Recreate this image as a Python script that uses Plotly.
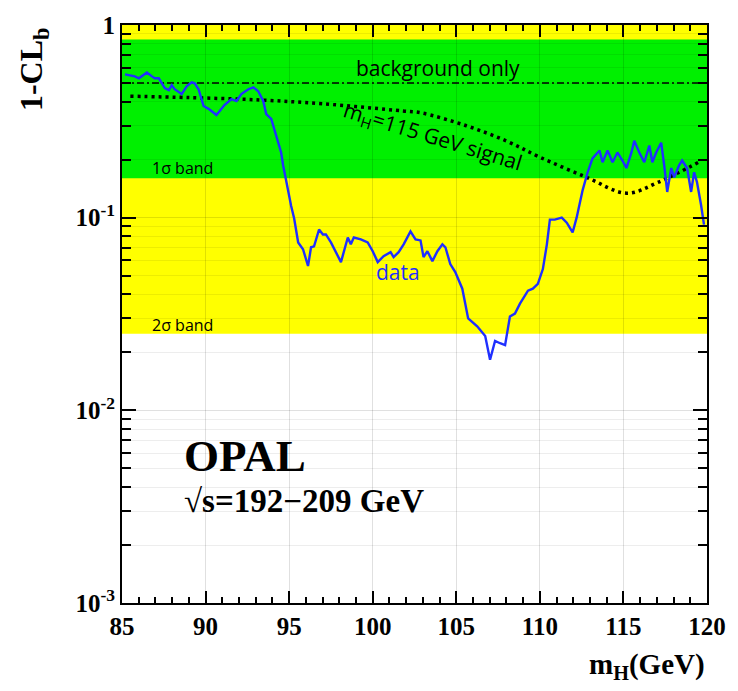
import numpy as np
import plotly.graph_objects as go

# ---- data ----
data_mh = [85.18, 85.77, 86.01, 86.49, 86.79, 86.96, 87.20, 87.56, 87.80, 87.98,
           88.15, 88.57, 88.87, 89.17, 89.35, 89.58, 89.88, 90.18, 90.65, 91.13,
           91.55, 91.85, 92.14, 92.56, 92.86, 93.15, 93.45, 93.63, 93.93, 94.23,
           94.52, 94.64, 94.82, 95.12, 95.30, 95.54, 95.83, 96.13, 96.31, 96.49,
           96.79, 97.02, 97.20, 97.50, 98.10, 98.51, 98.69, 98.87, 99.29, 99.70,
           100.00, 100.30, 100.65, 101.07, 101.25, 101.55, 101.85, 102.26, 102.56, 102.86,
           103.04, 103.27, 103.57, 103.87, 104.17, 104.35, 104.64, 104.94, 105.36, 105.71,
           106.25, 106.73, 107.02, 107.32, 107.62, 107.92, 108.21, 108.51, 108.81, 109.29,
           109.58, 109.88, 110.18, 110.42, 110.60, 110.89, 111.31, 111.61, 111.96, 112.20,
           112.56, 112.86, 113.15, 113.57, 113.75, 114.05, 114.35, 114.64, 114.94, 115.18,
           115.48, 115.65, 115.95, 116.25, 116.55, 116.73, 116.96, 117.26, 117.44, 117.62,
           117.86, 118.04, 118.33, 118.51, 118.81, 119.05, 119.23, 119.40, 119.64, 119.82]
data_clb = [0.554, 0.541, 0.529, 0.567, 0.541, 0.529, 0.529, 0.470, 0.459, 0.487,
            0.464, 0.438, 0.481, 0.504, 0.498, 0.464, 0.380, 0.367, 0.341, 0.384,
            0.412, 0.403, 0.438, 0.464, 0.475, 0.453, 0.403, 0.345, 0.326, 0.267,
            0.218, 0.187, 0.153, 0.115, 0.0989, 0.0744, 0.0686, 0.0561, 0.0702, 0.0710,
            0.0868, 0.0818, 0.0818, 0.0744, 0.0588, 0.0789, 0.0727, 0.0789, 0.0771, 0.0744,
            0.0670, 0.0588, 0.0631, 0.0662, 0.0624, 0.0662, 0.0727, 0.0848, 0.0771, 0.0762,
            0.0624, 0.0670, 0.0595, 0.0670, 0.0727, 0.0702, 0.0574, 0.0522, 0.0428, 0.0300,
            0.0273, 0.0243, 0.0183, 0.0229, 0.0223, 0.0218, 0.0307, 0.0318, 0.0358, 0.0418,
            0.0428, 0.0453, 0.0541, 0.0727, 0.0977, 0.0977, 0.100, 0.0942, 0.0838, 0.100,
            0.139, 0.172, 0.203, 0.223, 0.194, 0.223, 0.194, 0.218, 0.198, 0.181,
            0.218, 0.251, 0.218, 0.194, 0.237, 0.194, 0.218, 0.245, 0.187, 0.136,
            0.181, 0.162, 0.187, 0.198, 0.181, 0.136, 0.172, 0.153, 0.117, 0.092]

signal_mh = [85.5, 89.0, 93.3, 97.0, 101.8, 102.9, 105.6, 108.0, 110.0, 112.8, 115.2, 117.1, 119.6]
signal_clb = [0.427, 0.42, 0.408, 0.39, 0.358, 0.350, 0.300, 0.25, 0.206, 0.162, 0.134, 0.153, 0.196]

bkg_mh = [85.0, 120.0]
bkg_clb = [0.5, 0.5]

mh_range = [85.0, 120.0]
band1 = [0.16, 0.84]     # 1 sigma band
band2 = [0.025, 1.0]     # 2 sigma band

x_ticks = [85, 90, 95, 100, 105, 110, 115, 120]
x_minor = [m for m in range(86, 120) if m % 5 != 0]
y_ticks = [1, 0.1, 0.01, 0.001]
y_ticktext = ["1", "10<sup>-1</sup>", "10<sup>-2</sup>", "10<sup>-3</sup>"]
y_minor = [m * 10.0 ** e for e in (-3, -2, -1) for m in range(2, 10)]

GREEN = "#00f000"
YELLOW = "#ffff00"
BLUE = "#1f2fff"


def band_trace(lims, color):
    lo, hi = lims
    x0, x1 = mh_range
    return go.Scatter(x=[x0, x1, x1, x0, x0], y=[lo, lo, hi, hi, lo], mode="lines",
                      fill="toself", fillcolor=color, line=dict(width=0, color=color),
                      hoverinfo="skip", showlegend=False, xaxis="x", yaxis="y")


fig = go.Figure()
# bands live on a hidden base subplot drawn first
fig.add_trace(band_trace(band2, YELLOW))
fig.add_trace(band_trace(band1, GREEN))

# curves, grid and ticks on a second subplot drawn on top
fig.add_trace(go.Scatter(x=bkg_mh, y=bkg_clb, mode="lines", xaxis="x2", yaxis="y2",
                         line=dict(color="black", width=1.6, dash="7px,3px,2px,3px"),
                         hoverinfo="skip", showlegend=False))
fig.add_trace(go.Scatter(x=signal_mh, y=signal_clb, mode="lines", line_shape="spline",
                         xaxis="x2", yaxis="y2",
                         line=dict(color="black", width=3.5, dash="3px,4px"),
                         hoverinfo="skip", showlegend=False))
fig.add_trace(go.Scatter(x=data_mh, y=data_clb, mode="lines", xaxis="x2", yaxis="y2",
                         line=dict(color=BLUE, width=2.4),
                         hoverinfo="skip", showlegend=False))

serif = "Liberation Serif"
sans = "Open Sans"

fig.update_layout(
    width=738, height=691,
    margin=dict(l=122, r=30, t=17, b=88),
    paper_bgcolor="white", plot_bgcolor="rgba(0,0,0,0)",
    showlegend=False,
    xaxis=dict(range=mh_range, domain=[0, 1], anchor="y", visible=False),
    yaxis=dict(type="log", range=[-3, 0], domain=[0, 1], anchor="x", visible=False),
    xaxis2=dict(range=mh_range, domain=[0, 1], anchor="y2", tickmode="array", tickvals=x_ticks,
                ticks="inside", ticklen=12, tickwidth=2, tickcolor="black",
                showline=True, linewidth=2, linecolor="black", mirror="ticks",
                showgrid=True, gridcolor="rgba(0,0,0,0.12)", gridwidth=1,
                zeroline=False,
                tickfont=dict(family=serif, size=25, color="black", weight="bold"),
                minor=dict(tickmode="array", tickvals=x_minor, ticks="inside",
                           ticklen=6, tickwidth=1.5, tickcolor="black", showgrid=False)),
    yaxis2=dict(type="log", range=[-3, 0], domain=[0, 1], anchor="x2",
                tickmode="array", tickvals=y_ticks, ticktext=y_ticktext,
                ticks="inside", ticklen=14, tickwidth=2, tickcolor="black",
                showline=True, linewidth=2, linecolor="black", mirror="ticks",
                showgrid=True, gridcolor="rgba(0,0,0,0.12)", gridwidth=1,
                zeroline=False,
                tickfont=dict(family=serif, size=25, color="black", weight="bold"),
                minor=dict(tickmode="array", tickvals=y_minor, ticks="inside",
                           ticklen=9, tickwidth=1.5, tickcolor="black",
                           showgrid=True, gridcolor="rgba(0,0,0,0.07)")),
)

ann = []
ann.append(dict(x=103.9, y=np.log10(0.595), text="background only",
                font=dict(family=sans, size=21, color="black")))
ann.append(dict(x=103.6, y=np.log10(0.262), text="m<sub>H</sub>=115 GeV signal",
                textangle=17, font=dict(family=sans, size=21, color="black")))
ann.append(dict(x=88.6, y=np.log10(0.181), text="1σ band",
                font=dict(family=sans, size=16, color="black")))
ann.append(dict(x=88.6, y=np.log10(0.0276), text="2σ band",
                font=dict(family=sans, size=16, color="black")))
ann.append(dict(x=101.5, y=np.log10(0.0522), text="data",
                font=dict(family=sans, size=21, color=BLUE)))
ann.append(dict(x=88.6, y=np.log10(0.0058), text="OPAL", xanchor="left",
                font=dict(family=serif, size=45, color="black", weight="bold")))
ann.append(dict(x=88.6, y=np.log10(0.00337), text="√s=192−209 GeV", xanchor="left",
                font=dict(family=serif, size=33, color="black", weight="bold")))
for a in ann:
    a.update(xref="x2", yref="y2", showarrow=False)
    fig.add_annotation(**a)

fig.add_annotation(x=-0.152, y=1.0, xref="paper", yref="paper", xanchor="center", yanchor="top",
                   text="1-CL<sub>b</sub>", textangle=-90, showarrow=False,
                   font=dict(family=serif, size=32, color="black", weight="bold"))
fig.add_annotation(x=1.0, y=-0.075, xref="paper", yref="paper", xanchor="right", yanchor="top",
                   text="m<sub>H</sub>(GeV)", showarrow=False,
                   font=dict(family=serif, size=29, color="black", weight="bold"))

fig.write_html("out.html")
